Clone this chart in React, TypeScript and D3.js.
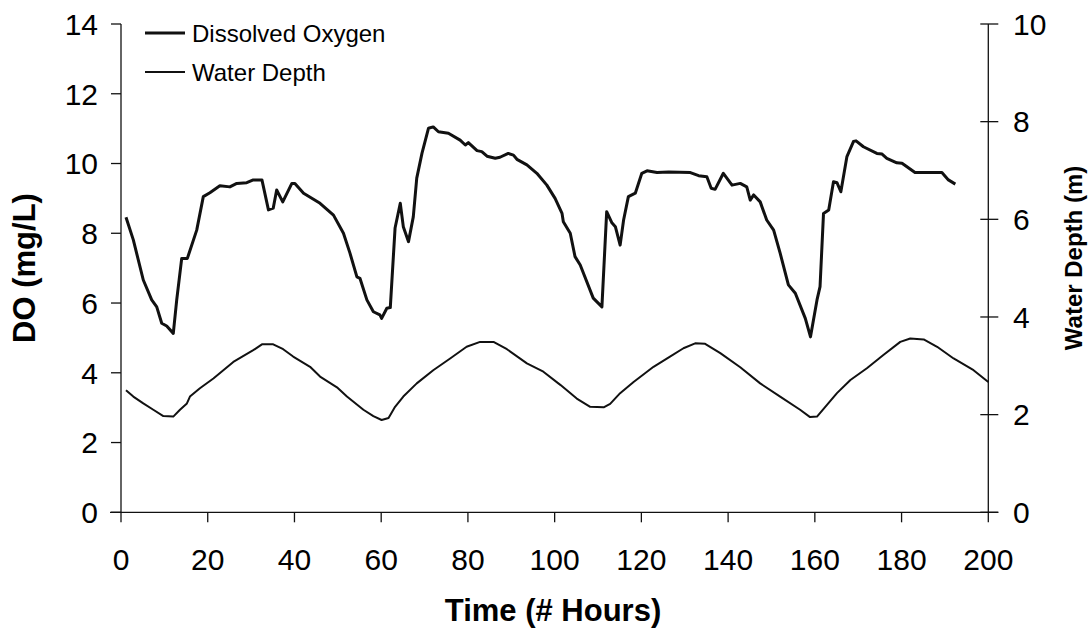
import React from "react";
import * as d3 from "d3";

const doHours = [1.15, 2.84, 5.14, 7.08, 8.24, 9.39, 10.54, 12.06, 12.85, 14.0, 15.3, 17.46, 18.98, 20.5, 22.8, 25.1, 26.7, 29.0, 30.5, 32.5, 34.0, 35.1, 35.9, 37.3, 39.4, 40.1, 42.1, 45.9, 49.0, 51.3, 52.8, 54.4, 55.1, 56.7, 58.2, 59.7, 60.1, 61.3, 62.1, 63.2, 64.4, 65.1, 66.3, 67.4, 68.2, 69.4, 70.9, 72.0, 73.2, 75.5, 78.2, 79.4, 80.1, 82.1, 83.2, 84.4, 86.3, 87.4, 89.3, 90.5, 91.3, 93.6, 95.9, 98.2, 100.1, 101.7, 102.0, 103.6, 104.7, 105.9, 108.9, 110.9, 112.0, 113.2, 114.0, 115.1, 115.9, 117.0, 118.6, 120.1, 121.3, 123.6, 126.3, 131.3, 133.2, 135.1, 136.1, 137.0, 138.9, 140.9, 142.8, 144.3, 145.1, 145.9, 147.4, 148.9, 150.5, 152.0, 153.9, 155.5, 157.8, 159.0, 160.5, 161.2, 162.0, 163.2, 164.3, 165.1, 166.0, 167.4, 168.9, 169.5, 171.2, 174.3, 175.5, 176.6, 178.9, 180.1, 183.1, 189.3, 190.8, 192.4];
const doValues = [8.46, 7.81, 6.66, 6.09, 5.89, 5.42, 5.34, 5.13, 6.09, 7.28, 7.28, 8.09, 9.05, 9.16, 9.36, 9.33, 9.43, 9.45, 9.53, 9.53, 8.67, 8.72, 9.24, 8.9, 9.43, 9.43, 9.15, 8.86, 8.52, 8.0, 7.43, 6.75, 6.71, 6.09, 5.75, 5.66, 5.56, 5.85, 5.87, 8.15, 8.86, 8.19, 7.76, 8.47, 9.58, 10.29, 11.01, 11.05, 10.91, 10.87, 10.67, 10.53, 10.6, 10.37, 10.34, 10.21, 10.15, 10.18, 10.29, 10.24, 10.12, 9.96, 9.72, 9.38, 9.0, 8.57, 8.33, 8.0, 7.33, 7.09, 6.14, 5.89, 8.62, 8.3, 8.19, 7.66, 8.38, 9.05, 9.15, 9.72, 9.79, 9.74, 9.76, 9.74, 9.65, 9.62, 9.29, 9.26, 9.72, 9.38, 9.43, 9.33, 8.95, 9.1, 8.9, 8.38, 8.09, 7.43, 6.52, 6.28, 5.56, 5.03, 6.09, 6.47, 8.57, 8.67, 9.48, 9.45, 9.19, 10.2, 10.63, 10.65, 10.48, 10.29, 10.27, 10.15, 10.02, 10.01, 9.74, 9.74, 9.53, 9.41];

const depthHours = [1.15, 2.84, 5.14, 7.45, 9.76, 12.06, 13.6, 15.2, 15.9, 18.2, 21.3, 25.9, 30.5, 32.5, 35.1, 37.4, 39.7, 43.6, 45.9, 49.8, 52.1, 55.9, 58.2, 60.1, 61.7, 63.2, 65.1, 68.2, 72.0, 75.9, 79.7, 82.8, 85.9, 89.0, 93.6, 97.4, 101.3, 105.1, 108.2, 111.3, 112.8, 115.1, 118.2, 122.8, 126.6, 129.7, 132.4, 134.7, 138.2, 142.8, 147.4, 152.0, 156.6, 158.9, 160.5, 162.8, 165.1, 168.2, 172.0, 175.8, 179.7, 182.0, 185.1, 188.2, 192.0, 196.6, 200.0];
const depthValues = [2.5, 2.37, 2.23, 2.1, 1.97, 1.96, 2.1, 2.23, 2.37, 2.54, 2.74, 3.08, 3.32, 3.44, 3.44, 3.34, 3.19, 2.98, 2.78, 2.56, 2.37, 2.1, 1.97, 1.89, 1.93, 2.16, 2.37, 2.64, 2.91, 3.15, 3.39, 3.49, 3.49, 3.34, 3.05, 2.88, 2.61, 2.33, 2.16, 2.15, 2.22, 2.44, 2.67, 2.98, 3.19, 3.36, 3.46, 3.45, 3.26, 2.97, 2.64, 2.37, 2.1, 1.95, 1.96, 2.2, 2.44, 2.71, 2.95, 3.22, 3.49, 3.56, 3.54, 3.39, 3.15, 2.91, 2.67];

const xTicks = [0, 20, 40, 60, 80, 100, 120, 140, 160, 180, 200];
const yLeftTicks = [0, 2, 4, 6, 8, 10, 12, 14];
const yRightTicks = [0, 2, 4, 6, 8, 10];

const seriesNames = ["Dissolved Oxygen", "Water Depth"];
const xTitle = "Time (# Hours)";
const yLeftTitle = "DO (mg/L)";
const yRightTitle = "Water Depth (m)";

export default function App() {
  const W = 1092, H = 633;
  const x = d3.scaleLinear().domain([0, 200]).range([121, 988.3]);
  const yL = d3.scaleLinear().domain([0, 14]).range([512.3, 24]);
  const yR = d3.scaleLinear().domain([0, 10]).range([512.3, 24]);

  const doLine = d3.line<number>().x((_, i) => x(doHours[i])).y((v) => yL(v));
  const depthLine = d3.line<number>().x((_, i) => x(depthHours[i])).y((v) => yR(v));

  const font = "'Liberation Sans', Arial, Helvetica, sans-serif";
  const stroke = "#111";

  return (
    <svg width={W} height={H} style={{ position: "absolute", left: 0, top: 0, background: "#fff" }} fontFamily={font}>
      {/* left axis */}
      <line x1={x(0)} x2={x(0)} y1={yL(14)} y2={yL(0)} stroke={stroke} strokeWidth={1.3} />
      {yLeftTicks.map((t) => (
        <g key={"l" + t}>
          <line x1={x(0) - 10} x2={x(0)} y1={yL(t)} y2={yL(t)} stroke={stroke} strokeWidth={1.3} />
          <text x={98} y={yL(t)} dy="0.36em" textAnchor="end" fontSize={30} fill="#000">{t}</text>
        </g>
      ))}
      {/* right axis */}
      <line x1={x(200)} x2={x(200)} y1={yR(10)} y2={yR(0)} stroke={stroke} strokeWidth={1.3} />
      {yRightTicks.map((t) => (
        <g key={"r" + t}>
          <line x1={x(200) - 8} x2={x(200) + 10} y1={yR(t)} y2={yR(t)} stroke={stroke} strokeWidth={1.3} />
          <text x={1013} y={yR(t)} dy="0.36em" textAnchor="start" fontSize={30} fill="#000">{t}</text>
        </g>
      ))}
      {/* bottom axis */}
      <line x1={x(0) - 11} x2={x(200) + 10} y1={yL(0)} y2={yL(0)} stroke={stroke} strokeWidth={1.3} />
      {xTicks.map((t) => (
        <g key={"x" + t}>
          <line x1={x(t)} x2={x(t)} y1={yL(0)} y2={yL(0) + 10} stroke={stroke} strokeWidth={1.3} />
          <text x={x(t)} y={570} textAnchor="middle" fontSize={30} fill="#000">{t}</text>
        </g>
      ))}

      {/* titles */}
      <text x={553} y={621} textAnchor="middle" fontSize={31} fontWeight="bold" fill="#000">{xTitle}</text>
      <text transform={`translate(35,268) rotate(-90)`} textAnchor="middle" fontSize={31} fontWeight="bold" fill="#000">{yLeftTitle}</text>
      <text transform={`translate(1082,258) rotate(-90)`} textAnchor="middle" fontSize={24} fontWeight="bold" fill="#000">{yRightTitle}</text>

      {/* series */}
      <path d={depthLine(depthValues) || ""} fill="none" stroke={stroke} strokeWidth={2} strokeLinejoin="round" />
      <path d={doLine(doValues) || ""} fill="none" stroke={stroke} strokeWidth={3} strokeLinejoin="round" />

      {/* legend */}
      <line x1={145} x2={185} y1={33} y2={33} stroke={stroke} strokeWidth={3} />
      <text x={192} y={33} dy="0.36em" fontSize={24} fill="#000">{seriesNames[0]}</text>
      <line x1={145} x2={185} y1={72} y2={72} stroke={stroke} strokeWidth={2} />
      <text x={192} y={72} dy="0.36em" fontSize={24} fill="#000">{seriesNames[1]}</text>
    </svg>
  );
}
